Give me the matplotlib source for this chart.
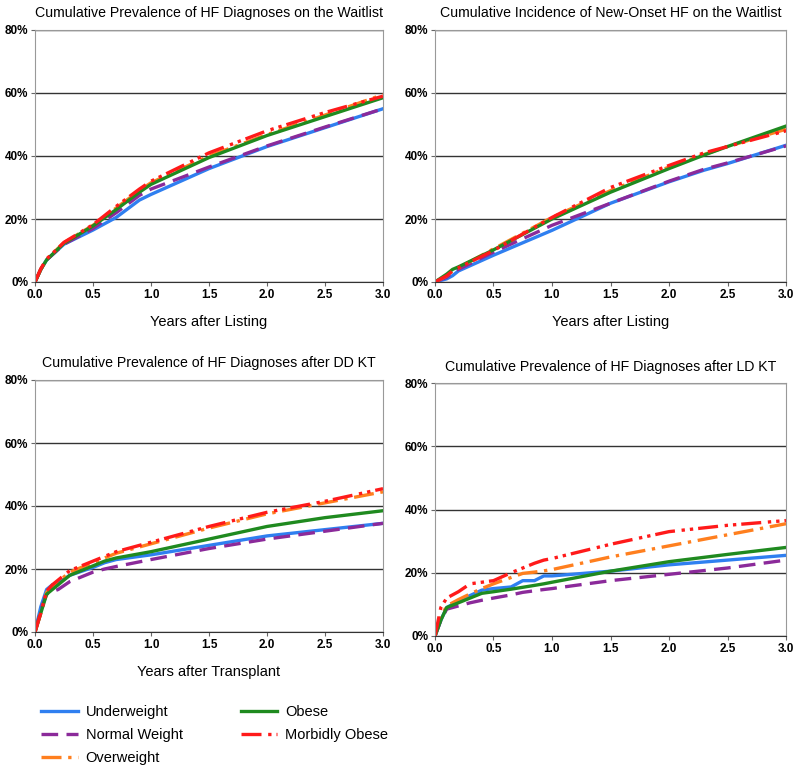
import numpy as np
import matplotlib
matplotlib.use('Agg')
import matplotlib.pyplot as plt
from matplotlib.ticker import FuncFormatter

plt.rcParams['font.family'] = ['Liberation Sans', 'DejaVu Sans']

groups = ['Underweight', 'Normal Weight', 'Overweight', 'Obese', 'Morbidly Obese']
colors = ['#2f7ff0', '#8b2a9a', '#ff7f1e', '#1f8a1f', '#ff1a1a']
styles = ['-', (0, (5, 2.5)), (0, (6, 2, 1, 2)), '-', (0, (6, 2, 1, 1.5, 1, 1.5))]

# panel 1: prevalence on waitlist
t1 = [0, 0.05, 0.1, 0.25, 0.5, 0.7, 0.9, 1.0, 1.5, 2.0, 2.5, 3.0]
p1 = {
    'Underweight':    [0, 4, 7, 12, 16.5, 20.5, 26, 27.8, 36, 43, 49, 55],
    'Normal Weight':  [0, 4, 7, 12, 17, 22, 27.5, 29.5, 36.5, 43.2, 49.2, 55],
    'Overweight':     [0, 4, 7.2, 12.5, 18, 23.5, 29, 31.5, 40, 46.8, 53, 59.5],
    'Obese':          [0, 4, 7, 12.3, 17.8, 23, 28.5, 31, 39.5, 46.5, 52.5, 58.5],
    'Morbidly Obese': [0, 4.2, 7.3, 12.6, 18.2, 24, 29.5, 32, 41, 48, 53.8, 59],
}
# panel 2: new-onset incidence on waitlist
t2 = [0, 0.1, 0.15, 0.2, 0.5, 1.0, 1.5, 2.0, 2.3, 2.5, 3.0]
p2 = {
    'Underweight':    [0, 1, 2, 3.5, 8.5, 16.4, 25, 31.8, 35.5, 37.6, 43.4],
    'Normal Weight':  [0, 1.5, 3, 4, 9.5, 18, 25, 32, 35.8, 37.8, 43.2],
    'Overweight':     [0, 2, 3.5, 4.5, 10.5, 20.5, 29, 36.5, 40.5, 43, 48.5],
    'Obese':          [0, 2.5, 4, 4.8, 10.2, 20, 28.5, 36, 40.3, 43, 49.5],
    'Morbidly Obese': [0, 2, 3.5, 4.5, 10, 20.5, 30, 37, 41, 43, 48],
}
# panel 3: after deceased donor KT
t3 = [0, 0.05, 0.1, 0.15, 0.2, 0.3, 0.5, 0.6, 0.7, 1.0, 1.5, 2.0, 2.5, 3.0]
p3 = {
    'Underweight':    [0, 8, 13.5, 15, 15.5, 18, 20.5, 22, 23, 24.5, 27.5, 30.5, 32.5, 34.5],
    'Normal Weight':  [0, 7, 12, 12.8, 13.5, 16, 19, 20, 20.8, 23, 26.5, 29.5, 32, 34.5],
    'Overweight':     [0, 6, 12.5, 14.5, 16, 19, 22, 23.5, 25, 28, 33, 37.5, 41, 44.5],
    'Obese':          [0, 6, 12, 13.5, 15, 18, 21, 22.5, 23.5, 25.5, 29.5, 33.5, 36.3, 38.5],
    'Morbidly Obese': [0, 6, 13, 15, 16.5, 19.5, 22.5, 24, 25.5, 28.5, 33.5, 38, 41.5, 45.5],
}
# panel 4: after living donor KT
t4 = [0, 0.05, 0.1, 0.2, 0.3, 0.4, 0.5, 0.65, 0.75, 0.85, 0.93, 1.0, 1.5, 2.0, 2.5, 3.0]
p4 = {
    'Underweight':    [0, 5, 9, 11, 12.8, 14.5, 15, 15.5, 17.5, 17.5, 19, 19, 20.5, 22.5, 24, 25.5],
    'Normal Weight':  [0, 5, 8.5, 9.5, 10.5, 11.3, 12, 13, 13.8, 14.3, 14.7, 15, 17.5, 19.5, 21.5, 24],
    'Overweight':     [0, 6, 9.5, 11.5, 13.3, 15, 16.5, 18.5, 19.8, 20.2, 20.6, 21, 25, 28.5, 32, 35.5],
    'Obese':          [0, 5, 9, 10.5, 12, 13.5, 14, 14.8, 15.4, 16, 16.5, 17, 20.5, 23.5, 25.8, 28],
    'Morbidly Obese': [0, 9, 12, 14, 16.5, 17, 17.5, 20, 21.5, 23, 24, 24.5, 29, 33, 35, 36.5],
}

panels = [
    ('Cumulative Prevalence of HF Diagnoses on the Waitlist', 'Years after Listing', t1, p1, [35, 30, 348, 252]),
    ('Cumulative Incidence of New-Onset HF on the Waitlist', 'Years after Listing', t2, p2, [435, 30, 351, 252]),
    ('Cumulative Prevalence of HF Diagnoses after DD KT', 'Years after Transplant', t3, p3, [35, 380, 348, 252]),
    ('Cumulative Prevalence of HF Diagnoses after LD KT', '', t4, p4, [435, 383, 351, 253]),
]

W, H = 800, 772
fig = plt.figure(figsize=(W / 100, H / 100), dpi=100)

for title, xlabel, t, data, (x0, y0, w, h) in panels:
    ax = fig.add_axes([x0 / W, (H - y0 - h) / H, w / W, h / H])
    for g, c, ls in zip(groups, colors, styles):
        ax.plot(t, data[g], color=c, ls=ls, lw=2.4, label=g)
    ax.set_xlim(0, 3)
    ax.set_ylim(0, 80)
    ax.set_xticks(np.arange(0, 3.01, 0.5))
    ax.set_yticks([0, 20, 40, 60, 80])
    ax.xaxis.set_major_formatter(FuncFormatter(lambda v, p: '%.1f' % v))
    ax.yaxis.set_major_formatter(FuncFormatter(lambda v, p: '%d%%' % v))
    for lab in ax.get_xticklabels() + ax.get_yticklabels():
        lab.set_fontweight('bold')
        lab.set_fontsize(8.5)
    ax.grid(axis='y', color='#333333', lw=1)
    ax.set_axisbelow(True)
    for s in ['top', 'right', 'left']:
        ax.spines[s].set_color('#999999')
    ax.spines['bottom'].set_color('#333333')
    ax.tick_params(length=3, color='#666666', pad=2)
    ax.set_title(title, fontsize=10.2, pad=9)
    if xlabel:
        ax.set_xlabel(xlabel, fontsize=10.5, labelpad=10)

handles, labels = ax.get_legend_handles_labels()
fig.legend(handles, labels, loc='upper left', bbox_to_anchor=(28 / W, 1 - 692 / H),
           ncol=2, frameon=False, fontsize=10.5, handlelength=2.5, handletextpad=0.55,
           columnspacing=4.0, labelspacing=0.62)

fig.savefig('out.png', dpi=100)
